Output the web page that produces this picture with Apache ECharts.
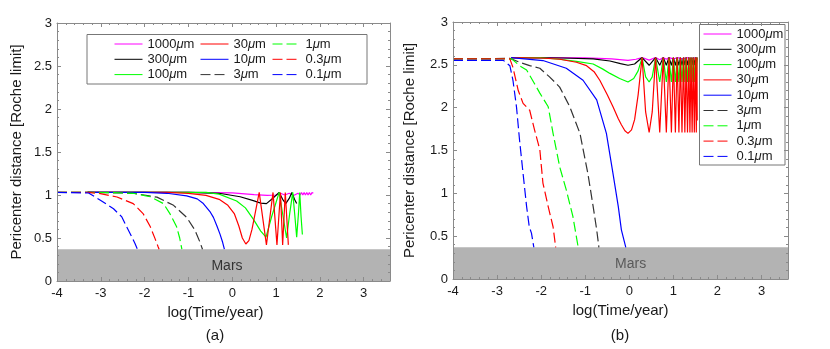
<!DOCTYPE html>
<html><head><meta charset="utf-8">
<script src="https://cdn.jsdelivr.net/npm/echarts@6/dist/echarts.min.js"></script>
<style>html,body{margin:0;padding:0;background:#fff}#c{width:830px;height:349px}</style>
</head><body><div id="c"></div>
<script>
// ---- series labels & styles ----
const sizeNames = ['1000μm','300μm','100μm','30μm','10μm','3μm','1μm','0.3μm','0.1μm'];
const sizeColors = ['#ff00ff','#000000','#00ff00','#ff0000','#0000ff','#333333','#00ff00','#ff0000','#0000ff'];
const sizeDashed = [false,false,false,false,false,true,true,true,true];
const marsTop = 0.37;
const marsLabelA = [[-0.12, 0.175]];
const marsLabelB = [[0.03, 0.175]];

// ---- panel (a) data: [log(time/yr), pericenter / Roche limit] ----
const A_1000 = [[-3.3,1.03],[-1,1.03],[0,1.025],[0.5,1.005],[0.8,0.995],[1.0,1.0],[1.1,1.02],[1.2,1.0],[1.3,1.02],[1.4,0.995],[1.5,1.02],[1.55,1.0],[1.58,1.03],[1.61,1.0],[1.64,1.03],[1.67,1.0],[1.70,1.03],[1.73,1.0],[1.76,1.03],[1.79,1.0],[1.82,1.03],[1.85,1.02]];
const A_300 = [[-3.3,1.03],[-1,1.03],[-0.3,1.02],[0.18,0.98],[0.48,0.935],[0.65,0.905],[0.78,0.90],[0.92,0.96],[1.07,1.03],[1.15,0.95],[1.22,0.90],[1.3,0.96],[1.36,1.03],[1.42,0.95],[1.47,0.90]];
const A_100 = [[-3.3,1.03],[-0.6,1.03],[-0.3,1.01],[0.1,0.93],[0.3,0.85],[0.48,0.72],[0.65,0.58],[0.77,0.51],[0.9,0.75],[1.07,1.03],[1.16,0.75],[1.24,0.50],[1.31,0.78],[1.38,1.03],[1.43,0.75],[1.47,0.51],[1.51,0.78],[1.54,1.03],[1.57,0.75],[1.60,0.54]];
const A_30 = [[-3.3,1.03],[-1.5,1.03],[-1.0,1.02],[-0.6,0.995],[-0.3,0.95],[-0.1,0.88],[0.05,0.78],[0.15,0.64],[0.23,0.50],[0.31,0.43],[0.38,0.47],[0.45,0.60],[0.52,0.78],[0.615,1.03],[0.78,0.42],[0.93,1.03],[1.02,0.42],[1.10,1.03],[1.15,0.42],[1.21,1.03],[1.28,0.42]];
const A_10 = [[-3.3,1.03],[-2,1.03],[-1.49,1.02],[-1.04,0.99],[-0.8,0.955],[-0.66,0.90],[-0.5,0.80],[-0.43,0.74],[-0.35,0.64],[-0.28,0.545],[-0.22,0.45],[-0.18,0.37]];
const A_3 = [[-4,1.03],[-3.3,1.03],[-2.6,1.025],[-2.26,1.02],[-1.72,0.975],[-1.34,0.88],[-1.04,0.74],[-0.85,0.59],[-0.74,0.455],[-0.68,0.37]];
const A_1 = [[-4,1.03],[-3.3,1.03],[-2.8,1.028],[-2.26,1.02],[-1.87,0.98],[-1.57,0.90],[-1.42,0.78],[-1.27,0.63],[-1.2,0.5],[-1.15,0.37]];
const A_03 = [[-4,1.03],[-3.3,1.03],[-3.01,1.016],[-2.63,0.977],[-2.26,0.90],[-2.03,0.78],[-1.87,0.63],[-1.76,0.49],[-1.69,0.395],[-1.67,0.37]];
const A_01 = [[-4,1.03],[-3.28,1.023],[-3.01,0.94],[-2.71,0.84],[-2.52,0.745],[-2.41,0.63],[-2.29,0.51],[-2.22,0.435],[-2.16,0.365]];

// ---- panel (b) data ----
const B_1000 = [[-2.68,2.585],[-1.0,2.582],[-0.4,2.57],[-0.03,2.552],[0.15,2.565],[0.29,2.585],[0.45,2.555],[0.595,2.585],[0.69,2.56],[0.77,2.585],[0.84,2.565],[0.90,2.585],[1.0,2.57],[1.1,2.585],[1.2,2.57],[1.3,2.585],[1.4,2.575],[1.535,2.585]];
const B_300 = [[-2.68,2.585],[-1.5,2.58],[-0.82,2.57],[-0.44,2.545],[-0.2,2.515],[-0.03,2.495],[0.12,2.51],[0.29,2.585],[0.45,2.495],[0.595,2.585],[0.69,2.495],[0.77,2.585],[0.84,2.495],[0.90,2.585],[0.955,2.495],[1.00,2.585],[1.045,2.495],[1.085,2.585],[1.125,2.495],[1.16,2.585],[1.195,2.495],[1.23,2.585],[1.26,2.495],[1.29,2.585],[1.32,2.495],[1.35,2.585],[1.375,2.495],[1.40,2.585],[1.425,2.495],[1.45,2.585],[1.475,2.495],[1.50,2.585],[1.52,2.495],[1.535,2.585]];
const B_100 = [[-2.68,2.585],[-2.0,2.583],[-1.58,2.565],[-1.2,2.54],[-0.82,2.51],[-0.6,2.45],[-0.44,2.40],[-0.22,2.34],[-0.03,2.30],[0.1,2.34],[0.2,2.43],[0.29,2.585],[0.37,2.36],[0.45,2.30],[0.52,2.36],[0.595,2.585],[0.69,2.30],[0.77,2.585],[0.84,2.30],[0.90,2.585],[0.955,2.30],[1.00,2.585],[1.045,2.30],[1.085,2.585],[1.125,2.30],[1.16,2.585],[1.195,2.30],[1.23,2.585],[1.26,2.30],[1.29,2.585],[1.32,2.30],[1.35,2.585],[1.375,2.30],[1.40,2.585],[1.425,2.30],[1.45,2.585],[1.475,2.30],[1.50,2.585],[1.52,2.30],[1.535,2.585]];
const B_30 = [[-2.68,2.585],[-2.0,2.58],[-1.58,2.565],[-1.2,2.53],[-0.97,2.49],[-0.8,2.42],[-0.67,2.32],[-0.5,2.15],[-0.37,2.01],[-0.25,1.87],[-0.18,1.80],[-0.1,1.73],[-0.03,1.70],[0.05,1.74],[0.12,1.86],[0.2,2.15],[0.29,2.585],[0.37,1.95],[0.45,1.71],[0.52,1.95],[0.595,2.585],[0.69,1.71],[0.77,2.585],[0.84,1.71],[0.90,2.585],[0.955,1.71],[1.00,2.585],[1.045,1.71],[1.085,2.585],[1.125,1.71],[1.16,2.585],[1.195,1.71],[1.23,2.585],[1.26,1.71],[1.29,2.585],[1.32,1.71],[1.35,2.585],[1.375,1.71],[1.40,2.585],[1.425,1.71],[1.45,2.585],[1.475,1.71],[1.50,2.585],[1.52,1.71],[1.535,2.585],[1.54,1.85]];
const B_10 = [[-2.68,2.585],[-1.96,2.55],[-1.43,2.46],[-1.05,2.32],[-0.74,2.09],[-0.52,1.70],[-0.37,1.23],[-0.25,0.845],[-0.18,0.574],[-0.12,0.45],[-0.08,0.37]];
const B_3 = [[-4,2.57],[-2.71,2.575],[-2.49,2.53],[-2.26,2.49],[-2.03,2.46],[-1.81,2.36],[-1.58,2.24],[-1.35,2.01],[-1.12,1.70],[-0.94,1.23],[-0.82,0.845],[-0.74,0.574],[-0.69,0.37]];
const B_1 = [[-4,2.57],[-2.67,2.57],[-2.49,2.49],[-2.33,2.44],[-2.15,2.28],[-2.03,2.17],[-1.84,2.01],[-1.73,1.70],[-1.58,1.31],[-1.43,1.04],[-1.28,0.73],[-1.16,0.37]];
const B_03 = [[-4,2.57],[-2.71,2.57],[-2.64,2.47],[-2.52,2.20],[-2.41,2.05],[-2.26,1.97],[-2.15,1.74],[-2.03,1.51],[-1.96,1.12],[-1.84,0.845],[-1.73,0.61],[-1.67,0.37]];
const B_01 = [[-4,2.553],[-2.86,2.553],[-2.71,2.49],[-2.64,2.32],[-2.56,2.01],[-2.49,1.62],[-2.41,1.23],[-2.33,0.845],[-2.27,0.61],[-2.22,0.535],[-2.17,0.38],[-2.16,0.37]];

const dataA = [A_1000,A_300,A_100,A_30,A_10,A_3,A_1,A_03,A_01];
const dataB = [B_1000,B_300,B_100,B_30,B_10,B_3,B_1,B_03,B_01];

const FONT = 'Liberation Sans';
const frameCol = '#8a8a8a';

function xAx(gi, pos, show, name, pad) {
  return {
    type:'value', gridIndex:gi, position:pos, min:-4, max:3.6, interval:1, z:10,
    axisLine:{show:true, onZero:false, lineStyle:{color:frameCol, width:1}},
    axisTick:{show:true, inside:true, length:4, lineStyle:{color:frameCol}},
    minorTick:{show:true, splitNumber:5, length:2, lineStyle:{color:frameCol}},
    splitLine:{show:false}, minorSplitLine:{show:false},
    axisLabel:{show:show, showMaxLabel:false, margin:6, color:'#1a1a1a', fontFamily:FONT, fontSize:13},
    name: show ? name : '', nameLocation:'middle', nameGap:24,
    nameTextStyle:{color:'#1a1a1a', fontFamily:FONT, fontSize:15, padding: pad}
  };
}
function yAx(gi, pos, show, name, gap) {
  return {
    type:'value', gridIndex:gi, position:pos, min:0, max:3, interval:0.5, z:10,
    axisLine:{show:true, onZero:false, lineStyle:{color:frameCol, width:1}},
    axisTick:{show:true, inside:true, length:4, lineStyle:{color:frameCol}},
    minorTick:{show:true, splitNumber:5, length:2, lineStyle:{color:frameCol}},
    splitLine:{show:false}, minorSplitLine:{show:false},
    axisLabel:{show:show, margin:5, color:'#1a1a1a', fontFamily:FONT, fontSize:13},
    name: show ? name : '', nameLocation:'middle', nameGap:gap,
    nameTextStyle:{color:'#1a1a1a', fontFamily:FONT, fontSize:15}
  };
}

const series = [];
function addPanel(data, axisIdx) {
  data.forEach((d, i) => {
    series.push({
      type:'line', name:sizeNames[i], xAxisIndex:axisIdx, yAxisIndex:axisIdx,
      data:d, showSymbol:false, symbol:'none', animation:false, z:2,
      lineStyle:{color:sizeColors[i], width:1.2, type: sizeDashed[i] ? [10,4] : 'solid'},
      itemStyle:{color:sizeColors[i]}
    });
  });
}
addPanel(dataA, 0);
addPanel(dataB, 2);

function addMars(axisIdx, labelPos, labelCol) {
  series.push({
    type:'line', name:'MarsArea', xAxisIndex:axisIdx, yAxisIndex:axisIdx, data:[], z:5, silent:true, animation:false,
    markArea:{silent:true, itemStyle:{color:'#b3b3b3', opacity:1}, label:{show:false},
      data:[[{xAxis:-4, yAxis:0},{xAxis:3.6, yAxis:marsTop}]]}
  });
  series.push({
    type:'scatter', name:'MarsLabel', xAxisIndex:axisIdx, yAxisIndex:axisIdx, data:labelPos, z:6, silent:true, animation:false,
    symbolSize:1, itemStyle:{color:'rgba(0,0,0,0)'},
    label:{show:true, position:'inside', formatter:'Mars', color:labelCol, fontFamily:FONT, fontSize:14}
  });
}
addMars(0, marsLabelA, '#111');
addMars(2, marsLabelB, '#444');

const legendText = {color:'#1a1a1a', fontFamily:FONT, fontSize:13, lineHeight:14,
  rich:{mu:{fontFamily:FONT, fontStyle:'italic', fontSize:13, color:'#1a1a1a'}}};
const fmt = n => n.replace('μ','{mu|μ}');
function leg(left, top, names) {
  return {show:true, orient:'vertical', left:left, top:top, padding:0, itemWidth:28, itemHeight:14, itemGap:1.3,
    itemTextGap:3, data:names, textStyle:legendText, formatter:fmt, selectedMode:false, z:6,
    itemStyle:{opacity:0, borderWidth:0}, lineStyle:{width:1}};
}

const option = {
  animation:false,
  backgroundColor:'#fff',
  grid:[
    {left:57, top:23, width:333, height:258, outerBoundsMode:'none', containLabel:false},
    {left:453, top:22, width:335, height:257, outerBoundsMode:'none', containLabel:false}
  ],
  xAxis:[ xAx(0,'bottom',true,'log(Time/year)',[0,16,0,0]), xAx(0,'top',false,''),
          xAx(1,'bottom',true,'log(Time/year)',[0,0,0,0]), xAx(1,'top',false,'') ],
  yAxis:[ yAx(0,'left',true,'Pericenter distance [Roche limit]',33), yAx(0,'right',false,'',0),
          yAx(1,'left',true,'Pericenter distance [Roche limit]',36), yAx(1,'right',false,'',0) ],
  legend:[
    leg(114, 37, sizeNames.slice(0,3)),
    leg(200, 37, sizeNames.slice(3,6)),
    leg(272, 37, sizeNames.slice(6,9)),
    leg(703, 27, sizeNames)
  ],
  graphic:[
    {type:'rect', z:3, shape:{x:87, y:34.5, width:280, height:49.5}, style:{fill:'#fff', stroke:'#777', lineWidth:1}},
    {type:'rect', z:3, shape:{x:699.5, y:24.5, width:85.5, height:140.5}, style:{fill:'#fff', stroke:'#777', lineWidth:1}},
    {type:'text', z:3, x:215, y:336, style:{text:'(a)', textAlign:'center', textVerticalAlign:'middle', font:'15px "Liberation Sans"', fill:'#1a1a1a'}},
    {type:'text', z:3, x:620, y:336, style:{text:'(b)', textAlign:'center', textVerticalAlign:'middle', font:'15px "Liberation Sans"', fill:'#1a1a1a'}}
  ],
  series:series
};
const chart = echarts.init(document.getElementById('c'), null, {renderer:'canvas'});
chart.setOption(option);
</script></body></html>
